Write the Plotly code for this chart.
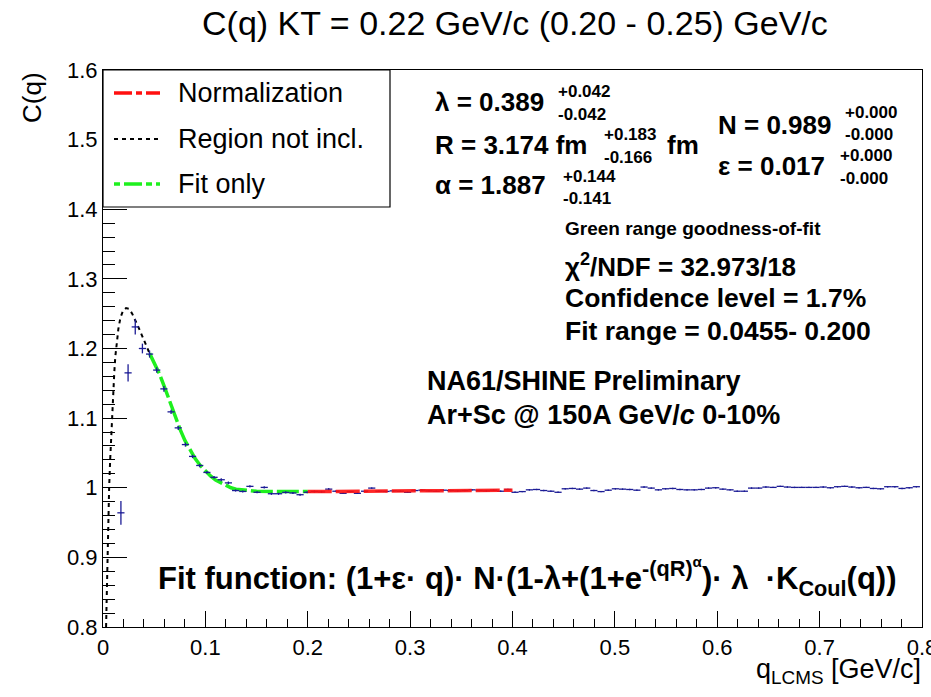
import plotly.graph_objects as go

# ---------------- data ----------------
bin_width = 0.007
q_data = [0.0175 + 0.007 * k for k in range(112)]  # bin centres 0.0175 ... 0.7945
c_data = [
    0.964, 1.165, 1.231, 1.200, 1.192, 1.169, 1.142, 1.109, 1.086, 1.062,
    1.045, 1.032, 1.022, 1.015, 1.0115, 1.007, 0.996, 0.9947, 1.002, 0.9935,
    1.0005, 0.9914, 0.9914, 0.9933, 0.9925, 0.9900, 0.9935, 0.9945, 0.9940, 0.9980,
    0.9950, 0.9920, 0.9945, 0.9920, 0.9950, 0.9995, 0.9950, 0.9947, 0.9955, 0.9950,
    0.9935, 0.9960, 0.9965, 0.9955, 0.9950, 0.9965, 0.9960, 0.9955, 0.9960, 0.9970,
    0.9960, 0.9955, 0.9965, 0.9950, 0.9975, 0.9935, 0.9945, 0.9970, 0.9975, 0.9960,
    0.9950, 0.9935, 0.9985, 0.9990, 0.9980, 0.9995, 0.9960, 0.9945, 0.9965, 0.9985,
    0.9980, 0.9975, 0.9965, 1.0010, 0.9995, 0.9970, 0.9985, 0.9990, 0.9975, 0.9970,
    0.9970, 0.9975, 0.9995, 1.0000, 0.9980, 0.9970, 0.9950, 0.9950, 0.9995, 0.9995,
    1.0010, 1.0005, 1.0020, 1.0010, 1.0005, 1.0005, 1.0005, 1.0005, 1.0010, 1.0000,
    1.0015, 1.0020, 1.0010, 1.0000, 1.0005, 0.9990, 0.9985, 1.0015, 1.0015, 0.9990,
    1.0000, 1.0015,
]
c_err = [0.017, 0.0125, 0.011, 0.007, 0.005, 0.004, 0.004, 0.003, 0.003, 0.003,
         0.0025, 0.0025, 0.002, 0.002, 0.002, 0.002] + [0.0015] * 14 + [0.001] * 82

# fit curve, region not included
q_excl = [0.0030, 0.0040, 0.0050, 0.0060, 0.0070, 0.0080, 0.0090, 0.0100, 0.0110,
          0.0120, 0.0135, 0.0150, 0.0170, 0.0195, 0.0225, 0.0255, 0.0285, 0.0315,
          0.0345, 0.0380, 0.0420, 0.0455]
c_excl = [0.800, 0.880, 0.950, 1.000, 1.040, 1.075, 1.110, 1.140, 1.165,
          1.188, 1.210, 1.228, 1.244, 1.254, 1.258, 1.257, 1.250, 1.241,
          1.231, 1.219, 1.205, 1.193]

# fit curve, fit range (green)
q_fit = [0.0455, 0.050, 0.055, 0.060, 0.065, 0.070, 0.075, 0.080, 0.085, 0.090,
         0.095, 0.100, 0.105, 0.110, 0.115, 0.120, 0.125, 0.130, 0.140, 0.150,
         0.170, 0.200]
c_fit = [1.193, 1.180, 1.164, 1.145, 1.124, 1.103, 1.085, 1.068, 1.054, 1.042,
         1.032, 1.024, 1.017, 1.011, 1.007, 1.003, 1.000, 0.998, 0.996, 0.995,
         0.9945, 0.9945]

# normalization (red)
q_norm = [0.200, 0.300, 0.400]
c_norm = [0.9945, 0.9955, 0.9965]

# ---------------- layout helpers ----------------
W, H = 931, 697
L, R, T, B = 103, 922, 70, 627


def px(x):
    return (x - L) / (R - L)


def py(y):
    return (B - y) / (B - T)


FONT = "Liberation Sans, Arial, sans-serif"
BLUE = "#1c1c96"
GREEN = "#1ef01e"
RED = "#ff1010"

fig = go.Figure()

fig.add_trace(go.Scatter(x=q_excl, y=c_excl, mode="lines",
                         line=dict(color="black", width=2, dash="4px,4px"),
                         showlegend=False, hoverinfo="skip"))
fig.add_trace(go.Scatter(x=q_fit, y=c_fit, mode="lines",
                         line=dict(color=GREEN, width=3.5, dash="22px,4px"),
                         showlegend=False, hoverinfo="skip"))
fig.add_trace(go.Scatter(x=q_data, y=c_data, mode="markers",
                         marker=dict(size=1, color=BLUE),
                         error_x=dict(type="constant", value=bin_width / 2, width=0,
                                      thickness=1.3, color=BLUE),
                         error_y=dict(type="data", array=c_err, width=0,
                                      thickness=1.3, color=BLUE),
                         showlegend=False))
fig.add_trace(go.Scatter(x=q_norm, y=c_norm, mode="lines",
                         line=dict(color=RED, width=3.5, dash="24px,4px"),
                         opacity=0.9, showlegend=False, hoverinfo="skip"))

shapes = []
annotations = []

# legend box
shapes.append(dict(type="rect", xref="paper", yref="paper",
                   x0=px(103), x1=px(390), y0=py(207), y1=py(70),
                   line=dict(color="black", width=1.2), fillcolor="white", layer="above"))
legend_items = [("Normalization", RED, "18px,4px,6px,4px", 3.5, 93),
                ("Region not incl.", "black", "4px,4px", 2, 139),
                ("Fit only", GREEN, "6px,4px,18px,4px", 3.5, 184)]
for text, col, dash, wd, yy in legend_items:
    shapes.append(dict(type="line", xref="paper", yref="paper",
                       x0=px(114), x1=px(160), y0=py(yy), y1=py(yy),
                       line=dict(color=col, width=wd, dash=dash), layer="above"))
    annotations.append(dict(x=px(176), y=py(yy), xref="paper", yref="paper",
                            text=text, showarrow=False, xanchor="left", yanchor="middle",
                            font=dict(family=FONT, size=27, color="black")))


def label(x, y, text, size, anchor="left", bold=True):
    annotations.append(dict(x=px(x), y=py(y), xref="paper", yref="paper",
                            text=("<b>%s</b>" % text) if bold else text,
                            showarrow=False, xanchor=anchor, yanchor="middle",
                            font=dict(family=FONT, size=size, color="black")))


BIG = 26
SMALL = 17
# parameter block
label(433, 102, "λ = 0.389", BIG)
label(556, 91, "+0.042", SMALL)
label(556, 114, "-0.042", SMALL)
label(433, 145, "R = 3.174 fm", BIG)
label(602, 134, "+0.183", SMALL)
label(602, 157, "-0.166", SMALL)
label(665, 145, "fm", BIG)
label(433, 185, "α = 1.887", BIG)
label(561, 176, "+0.144", SMALL)
label(561, 198, "-0.141", SMALL)
label(716, 125, "N = 0.989", BIG)
label(843, 112, "+0.000", SMALL)
label(843, 134, "-0.000", SMALL)
label(716, 166, "ε = 0.017", BIG)
label(838, 155, "+0.000", SMALL)
label(838, 178, "-0.000", SMALL)

label(563, 228, "Green range goodness-of-fit", 19)
label(563, 265, "χ<sup>2</sup>/NDF = 32.973/18", BIG)
label(563, 298, "Confidence level = 1.7%", 26.5)
label(563, 331, "Fit range = 0.0455- 0.200", 26.5)
label(425, 381, "NA61/SHINE Preliminary", 27)
label(425, 415, "Ar+Sc @ 150A GeV/<i>c</i> 0-10%", 27)

label(527, 577, "Fit function: (1+ε· q)· N·(1-λ+(1+e<sup>-(qR)<sup>α</sup></sup>)· λ  ·K<sub>Coul</sub>(q))",
      31, anchor="center")

# title and axis titles
label(515, 23, "C(q) KT = 0.22 GeV/c (0.20 - 0.25) GeV/c", 34, anchor="center", bold=False)
annotations.append(dict(x=px(32), y=py(98), xref="paper", yref="paper", text="C(q)",
                        textangle=-90, showarrow=False, xanchor="center", yanchor="middle",
                        font=dict(family=FONT, size=26, color="black")))
annotations.append(dict(x=px(923), y=py(671), xref="paper", yref="paper",
                        text="q<sub>LCMS</sub> [GeV/c]", showarrow=False,
                        xanchor="right", yanchor="middle",
                        font=dict(family=FONT, size=27, color="black")))

fig.update_layout(
    width=W, height=H,
    margin=dict(l=L, r=W - R, t=T, b=H - B, autoexpand=False),
    paper_bgcolor="white", plot_bgcolor="white",
    showlegend=False,
    shapes=shapes, annotations=annotations,
    font=dict(family=FONT, color="black"),
)
fig.update_xaxes(range=[0, 0.8], dtick=0.1, tick0=0, showgrid=False, zeroline=False,
                 automargin=False, ticklabeloverflow="allow",
                 showline=True, linecolor="black", linewidth=1.2, mirror=True,
                 ticks="inside", ticklen=16, tickcolor="black", tickwidth=1,
                 tickfont=dict(family=FONT, size=22, color="black"),
                 minor=dict(dtick=0.02, ticks="inside", ticklen=8, tickcolor="black"))
fig.update_yaxes(range=[0.8, 1.6], dtick=0.1, tick0=0.8, showgrid=False, zeroline=False,
                 automargin=False, ticklabeloverflow="allow",
                 showline=True, linecolor="black", linewidth=1.2, mirror=True,
                 ticks="inside", ticklen=24, tickcolor="black", tickwidth=1,
                 tickfont=dict(family=FONT, size=22, color="black"),
                 minor=dict(dtick=0.02, ticks="inside", ticklen=12, tickcolor="black"))

fig.write_html("out.html", config={"displayModeBar": False},
               post_script="document.body.style.margin='0';document.body.style.overflow='hidden';")
